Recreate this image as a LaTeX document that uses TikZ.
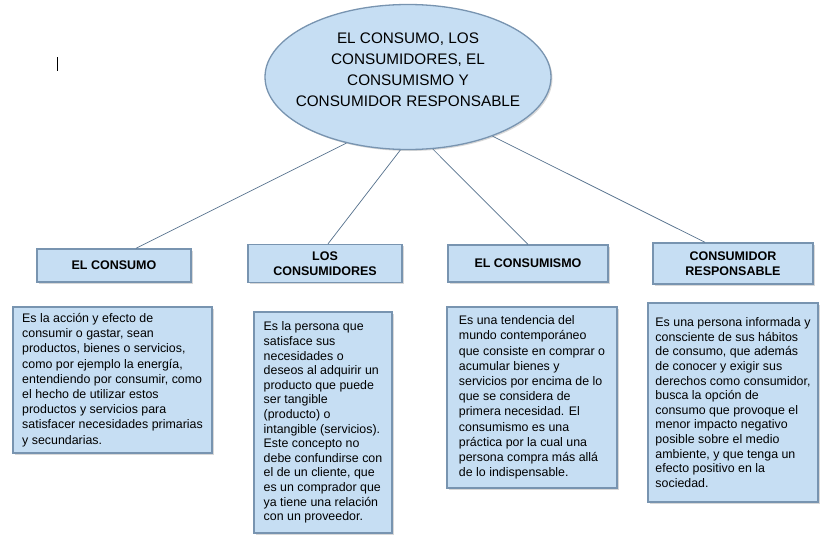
\documentclass[tikz,border=0pt]{standalone}
\usepackage{fontspec}
\setmainfont{Liberation Sans}
\usetikzlibrary{shapes.geometric,calc,shadows}
\definecolor{boxfill}{RGB}{198,222,243}
\definecolor{boxedge}{RGB}{120,148,176}
\definecolor{linkcol}{RGB}{84,112,140}
\begin{document}
\begin{tikzpicture}[x=1pt,y=-1pt,
  shade/.style={drop shadow={shadow xshift=1.5pt, shadow yshift=-1.5pt, opacity=0.3, fill=gray}},
  titlebox/.style={draw=boxedge, line width=1.3pt, fill=boxfill, inner sep=0pt, align=center,
    font=\fontsize{12.5}{15}\selectfont\bfseries, shade},
  descbox/.style={draw=boxedge, line width=1.3pt, fill=boxfill, inner sep=0pt, align=left,
    font=\fontsize{12.4}{15.2}\selectfont, shade},
  connector/.style={draw=linkcol, line width=0.7pt}]
\useasboundingbox (0,0) rectangle (835,544);
\fill[white] (0,0) rectangle (835,544);

% main ellipse
\node[ellipse, draw=boxedge, line width=1.3pt, fill=boxfill, minimum width=286, minimum height=145, shade] (ell) at (408,77) {};
\node[align=center, font=\fontsize{15.3}{21}\selectfont, inner sep=0pt] (etxt) at (408,70)
  {EL CONSUMO, LOS\\CONSUMIDORES, EL\\CONSUMISMO Y\\CONSUMIDOR RESPONSABLE};

% title boxes
\node[titlebox, minimum width=154, minimum height=33] (t1) at (114,265.5) {EL CONSUMO};
\node[titlebox, minimum width=154, minimum height=38] (t2) at (325,263.5) {LOS\\CONSUMIDORES};
\node[titlebox, minimum width=160, minimum height=37] (t3) at (528,263.5) {EL CONSUMISMO};
\node[titlebox, minimum width=160, minimum height=41] (t4) at (733,263.5) {CONSUMIDOR\\RESPONSABLE};

% description boxes
\node[descbox, minimum width=199, minimum height=146] (d1) at (112.5,380) {Es la acción y efecto de\\
consumir o gastar, sean\\
productos, bienes o servicios,\\
como por ejemplo la energía,\\
entendiendo por consumir, como\\
el hecho de utilizar estos\\
productos y servicios para\\
satisfacer necesidades primarias\\
y secundarias.};
\node[descbox, minimum width=138, minimum height=221, font=\fontsize{12.4}{14.6}\selectfont] (d2) at (323,422.5) {Es la persona que\\
satisface sus\\
necesidades o\\
deseos al adquirir un\\
producto que puede\\
ser tangible\\
(producto) o\\
intangible (servicios).\\
Este concepto no\\
debe confundirse con\\
el de un cliente, que\\
es un comprador que\\
ya tiene una relación\\
con un proveedor.};
\node[descbox, minimum width=170, minimum height=181] (d3) at (532,397.5) {Es una tendencia del\\
mundo contemporáneo\\
que consiste en comprar o\\
acumular bienes y\\
servicios por encima de lo\\
que se considera de\\
primera necesidad. El\\
consumismo es una\\
práctica por la cual una\\
persona compra más allá\\
de lo indispensable.};
\node[descbox, minimum width=170, minimum height=199, font=\fontsize{12.4}{14.6}\selectfont] (d4) at (733,402.5) {Es una persona informada y\\
consciente de sus hábitos\\
de consumo, que además\\
de conocer y exigir sus\\
derechos como consumidor,\\
busca la opción de\\
consumo que provoque el\\
menor impacto negativo\\
posible sobre el medio\\
ambiente, y que tenga un\\
efecto positivo en la\\
sociedad.};

% connectors from the ellipse
\draw[connector] (ell.227) -- ($(t1.north)+(22,0)$);
\draw[connector] (ell.264) -- ($(t2.north)+(3,0)$);
\draw[connector] (ell.289) -- (t3.north);
\draw[connector] (ell.325) -- ($(t4.north)+(-28,0)$);

% vertical links
\draw[connector] ($(t1.south)+(4,0)$) -- ($(t1.south)+(4,0)$ |- d1.north);
\draw[connector] ($(t2.south)+(3,0)$) -- ($(t2.south)+(3,0)$ |- d2.north);
\draw[connector] ($(t3.south)+(2,0)$) -- ($(t3.south)+(2,0)$ |- d3.north);
\draw[connector] ($(t4.south)+(-4,0)$) -- ($(t4.south)+(-4,0)$ |- d4.north);

% text cursor mark
\draw[line width=1pt] (57,57) -- (57,71);
\end{tikzpicture}
\end{document}
